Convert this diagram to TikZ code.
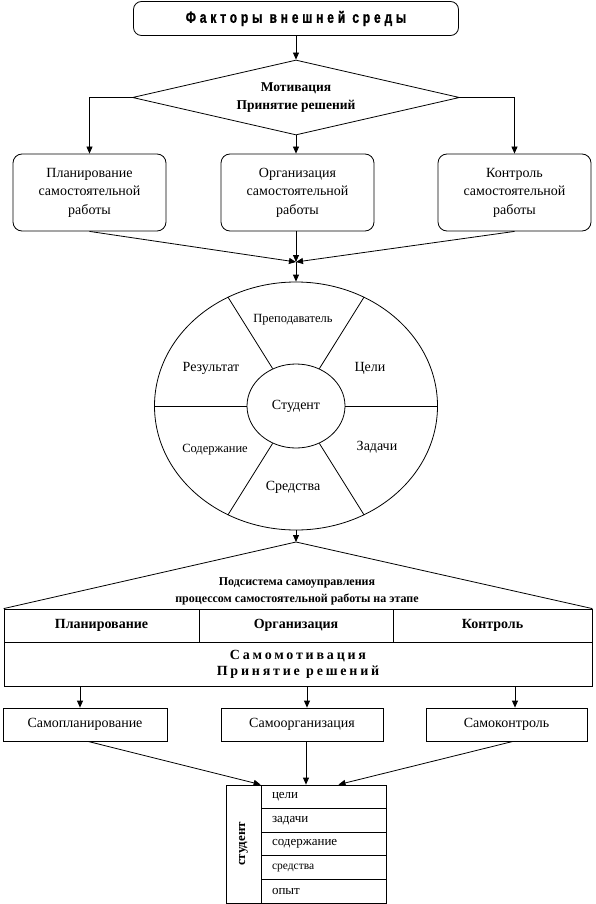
\documentclass[tikz,border=0pt]{standalone}
\usepackage{fontspec}
\setmainfont{Liberation Serif}
\newfontfamily\headfont[FakeStretch=0.75,LetterSpace=24,FakeBold=1.2]{Liberation Sans Bold}
\newfontfamily\spacedfont[LetterSpace=20]{Liberation Serif}
\usetikzlibrary{arrows.meta, shapes.geometric}

\begin{document}
\begin{tikzpicture}[x=1pt, y=-1pt, line width=0.8pt,
  font=\fontsize{14}{18.5}\selectfont,
  arr/.style={-{Triangle[length=7pt,width=6pt]}},
  rbox/.style={draw, rounded corners=9pt, minimum width=153pt, minimum height=77pt, align=center, inner sep=0pt},
  cell/.style={draw, minimum height=33pt, inner sep=0pt, font=\bfseries\fontsize{14}{16}\selectfont},
  sbox/.style={draw, minimum height=33pt, inner sep=0pt},
  row/.style={draw, minimum width=125pt, minimum height=23.6pt, text width=103pt, align=left, inner sep=0pt, font=\fontsize{13}{15}\selectfont},
  small/.style={font=\fontsize{12.5}{14}\selectfont}]

\useasboundingbox (0,0) rectangle (596,904);

\node[draw, rounded corners=8pt, minimum width=325pt, minimum height=34pt, inner sep=0pt] (factors) at (296,18.5) {\headfont\fontsize{16}{16}\selectfont Факторы внешней среды};

\node[draw, diamond, aspect=4.36, minimum width=327pt, minimum height=75pt, inner sep=0pt, align=center, font=\bfseries\fontsize{13.5}{18}\selectfont] (motiv) at (296,97.5) {Мотивация\\Принятие решений};

\node[rbox] (plan) at (89.5,192.5) {Планирование\\самостоятельной\\работы};
\node[rbox] (org) at (297.5,192.5) {Организация\\самостоятельной\\работы};
\node[rbox] (ctrl) at (514.5,192.5) {Контроль\\самостоятельной\\работы};

\draw[arr] (factors) -- (motiv);
\draw[arr] (motiv.west) -| (plan.north);
\draw[arr] (motiv.east) -| (ctrl.north);
\draw[arr] (motiv.south) -- (motiv.south |- org.north);

\node[draw, ellipse, minimum width=283pt, minimum height=248pt, inner sep=0pt] (wheel) at (296,406) {};
\node[draw, ellipse, minimum width=98pt, minimum height=84pt, inner sep=0pt] (student) at (296,406) {Студент};
\foreach \a in {0,58,122,180,238,302}
  \draw (student.\a) -- (wheel.\a);

\coordinate (meet) at (296,262);
\draw[arr] (plan.south) -- (meet);
\draw[arr] (ctrl.south) -- (meet);
\draw[arr] (org.south -| meet) -- (meet);
\draw[arr] (meet) -- (wheel.north);

\node[small] (teacher) at (293,320) {Преподаватель};
\node (result) at (211,368) {Результат};
\node (goals) at (370,368) {Цели};
\node[small] (content) at (215,450) {Содержание};
\node (tasks) at (377,447) {Задачи};
\node (means) at (293,487) {Средства};

\node[cell, minimum width=195pt] (tplan) at (101.5,625.5) {Планирование};
\node[cell, minimum width=194pt] (torg) at (296,625.5) {Организация};
\node[cell, minimum width=199pt] (tctrl) at (492.5,625.5) {Контроль};
\node[draw, minimum width=588pt, minimum height=44pt, inner sep=0pt, align=center, font=\spacedfont\bfseries\fontsize{14}{16}\selectfont] (selfmot) at (298,664) {Самомотивация\\Принятие решений};

\coordinate (apex) at (296,542);
\draw[arr] (wheel.south) -- (apex);
\draw (tplan.north west) -- (apex) -- (tctrl.north east);
\node[align=center, font=\bfseries\fontsize{12}{17}\selectfont] (subsys) at (297,591) {Подсистема самоуправления\\процессом самостоятельной работы на этапе};

\node[sbox, minimum width=164pt] (splan) at (85,724.5) {Самопланирование};
\node[sbox, minimum width=162pt] (sorg) at (302,724.5) {Самоорганизация};
\node[sbox, minimum width=161pt] (sctrl) at (506.5,724.5) {Самоконтроль};

\draw[arr] ([xshift=-5pt]splan.north |- selfmot.south) -- ([xshift=-5pt]splan.north);
\draw[arr] ([xshift=5pt]sorg.north |- selfmot.south) -- ([xshift=5pt]sorg.north);
\draw[arr] ([xshift=8.5pt]sctrl.north |- selfmot.south) -- ([xshift=8.5pt]sctrl.north);

\node[draw, rotate=90, minimum width=118pt, minimum height=35pt, inner sep=0pt, font=\bfseries\fontsize{13}{15}\selectfont] (stud) at (243.5,844) {студент};
\node[row] (r1) at (323.5,796.8) {цели};
\node[row] (r2) at (323.5,820.4) {задачи};
\node[row] (r3) at (323.5,844) {содержание};
\node[row, font=\fontsize{11.5}{13}\selectfont] (r4) at (323.5,867.6) {средства};
\node[row] (r5) at (323.5,891.2) {опыт};

\draw[arr] ([xshift=3pt]splan.south) -- (r1.north west);
\draw[arr] ([xshift=4pt]sorg.south) -- ([xshift=4pt]sorg.south |- r1.north);
\draw[arr] ([xshift=6.5pt]sctrl.south) -- ([xshift=15pt]r1.north);

\end{tikzpicture}
\end{document}
